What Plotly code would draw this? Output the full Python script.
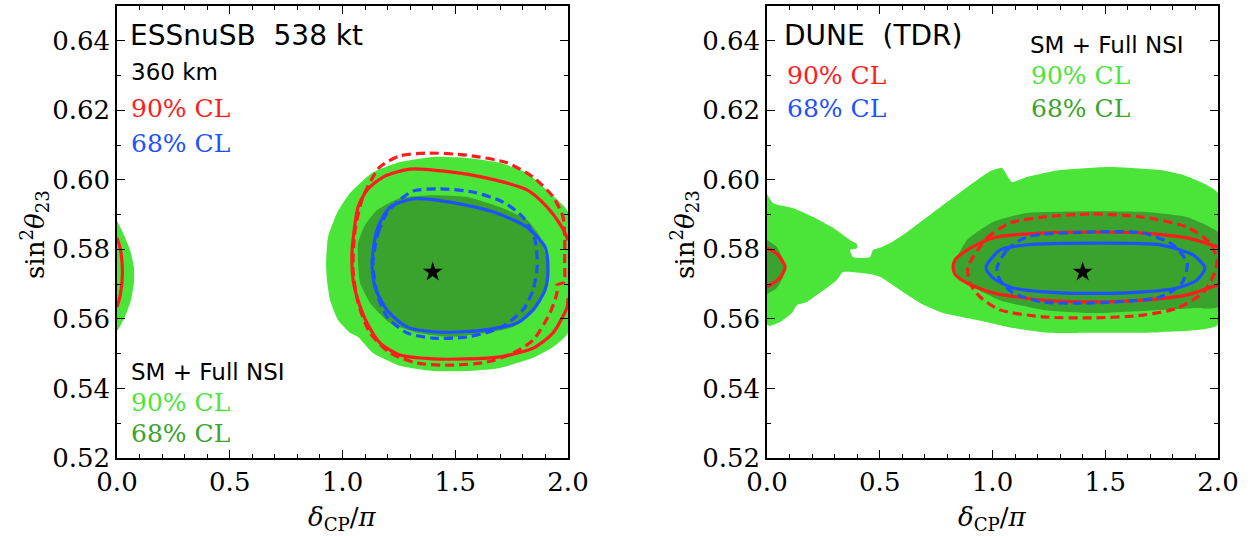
import plotly.graph_objects as go

# ---------------- data (delta_CP/pi , sin^2 theta23) ----------------
# ESSnuSB panel
ess_nsi90_x = [0.927,0.936,0.976,1.033,1.131,1.255,1.401,1.552,1.698,1.818,1.920,2.0,
               2.0,1.934,1.845,1.698,1.552,1.401,1.255,1.135,1.069,1.033,0.980,0.945,0.931,0.927]
ess_nsi90_y = [0.5761,0.5836,0.5905,0.5962,0.6020,0.6051,0.6066,0.6063,0.6049,0.6020,0.5962,0.5908,
               0.5560,0.5519,0.5488,0.5459,0.5450,0.5450,0.5465,0.5502,0.5548,0.5560,0.5597,0.5654,0.5712,0.5761]
ess_nsi90_edge_x = [0.0,0.027,0.058,0.075,0.075,0.062,0.035,0.004,0.0]
ess_nsi90_edge_y = [0.5882,0.5847,0.5798,0.5749,0.5703,0.5654,0.5606,0.5568,0.5568]
ess_nsi68_x = [1.069,1.069,1.100,1.153,1.255,1.401,1.552,1.698,1.818,1.876,1.907,1.898,1.845,1.756,
               1.641,1.477,1.330,1.211,1.122,1.078,1.069]
ess_nsi68_y = [0.5761,0.5818,0.5870,0.5913,0.5948,0.5956,0.5951,0.5922,0.5885,0.5836,0.5761,0.5692,0.5626,0.5577,
               0.5560,0.5548,0.5560,0.5588,0.5646,0.5703,0.5761]
ess_sm90_x = [2.0,1.973,1.907,1.818,1.641,1.477,1.299,1.180,1.109,1.069,1.052,1.042,1.047,1.069,1.109,
              1.166,1.255,1.401,1.552,1.698,1.845,1.934,1.996,2.0]
ess_sm90_y = [0.5827,0.5864,0.5922,0.5971,0.6005,0.6023,0.6031,0.6008,0.5971,0.5922,0.5856,0.5790,0.5712,0.5654,0.5588,
              0.5531,0.5496,0.5485,0.5485,0.5491,0.5516,0.5560,0.5634,0.5660]
ess_sm90_edge_x = [0.0,0.015,0.024,0.015,0.0]
ess_sm90_edge_y = [0.5833,0.5800,0.5733,0.5670,0.5634]
ess_alt90_x = [1.985,1.985,1.978,1.934,1.845,1.729,1.552,1.375,1.255,1.166,1.091,1.056,1.047,1.069,1.122,
               1.211,1.330,1.477,1.641,1.756,1.845,1.920,1.951,1.951,1.982,1.985]
ess_alt90_y = [0.5760,0.5840,0.5893,0.5951,0.6008,0.6049,0.6071,0.6077,0.6069,0.6037,0.5951,0.5856,0.5741,0.5646,0.5560,
               0.5502,0.5473,0.5467,0.5476,0.5502,0.5539,0.5617,0.5675,0.5698,0.5705,0.5760]
ess_sm68_x = [1.131,1.153,1.211,1.313,1.477,1.667,1.818,1.898,1.911,1.898,1.845,1.774,1.623,1.432,1.286,1.197,1.144,1.131]
ess_sm68_y = [0.5761,0.5856,0.5922,0.5945,0.5936,0.5908,0.5864,0.5807,0.5741,0.5683,0.5626,0.5588,0.5568,0.5562,0.5577,0.5626,0.5692,0.5761]
ess_alt68_x = [1.135,1.158,1.197,1.242,1.313,1.432,1.579,1.712,1.800,1.854,1.863,1.845,1.800,1.698,1.552,1.401,1.286,1.197,1.153,1.135]
ess_alt68_y = [0.5761,0.5847,0.5905,0.5936,0.5968,0.5974,0.5965,0.5936,0.5893,0.5827,0.5749,0.5683,0.5626,0.5574,0.5548,0.5545,0.5560,0.5606,0.5675,0.5761]

# DUNE panel
dune_nsi90_x = [0.0,0.027,0.115,0.204,0.293,0.368,0.399,0.399,0.368,0.381,0.412,0.457,0.470,0.510,0.554,0.621,0.710,
                0.798,0.887,0.990,1.042,1.086,1.153,1.299,1.521,1.743,1.845,1.933,2.0,2.0,1.743,1.446,1.255,1.091,
                0.931,0.781,0.678,0.590,0.501,0.457,0.337,0.310,0.235,0.177,0.133,0.111,0.058,0.013,0.0]
dune_nsi90_y = [0.5959,0.5933,0.5919,0.5893,0.5862,0.5827,0.5815,0.5803,0.5798,0.5778,0.5775,0.5778,0.5798,0.5807,0.5821,0.5850,0.5893,
                0.5936,0.5979,0.6025,0.6034,0.5994,0.6008,0.6028,0.6037,0.6028,0.6014,0.5991,0.5962,0.5583,0.5562,0.5560,0.5560,0.5574,
                0.5597,0.5617,0.5646,0.5683,0.5721,0.5729,0.5735,0.5712,0.5675,0.5649,0.5640,0.5617,0.5591,0.5580,0.5583]
dune_nsi68_x = [0.825,0.887,1.002,1.153,1.446,1.667,1.863,1.965,2.0,2.0,1.889,1.743,1.446,1.224,1.033,0.914,0.843,0.825]
dune_nsi68_y = [0.5749,0.5827,0.5879,0.5905,0.5910,0.5908,0.5893,0.5864,0.5850,0.5634,0.5631,0.5626,0.5617,0.5626,0.5654,0.5692,0.5721,0.5749]
dune_nsi68_edge_x = [0.0,0.044,0.071,0.071,0.044,0.0]
dune_nsi68_edge_y = [0.5827,0.5807,0.5769,0.5721,0.5689,0.5672]
dune_sm90_x = [2.0,1.863,1.667,1.446,1.224,1.002,0.887,0.834,0.825,0.834,0.887,1.002,1.224,1.446,1.667,1.863,2.0]
dune_sm90_y = [0.5807,0.5833,0.5847,0.5850,0.5847,0.5833,0.5798,0.5770,0.5749,0.5728,0.5703,0.5675,0.5654,0.5649,0.5654,0.5669,0.5698]
dune_sm90_edge_x = [0.0,0.049,0.080,0.058,0.0]
dune_sm90_edge_y = [0.5804,0.5784,0.5749,0.5718,0.5692]
dune_alt90_x = [0.891,0.976,1.078,1.224,1.446,1.667,1.863,1.965,1.996,1.978,1.933,1.818,1.667,1.446,1.224,1.033,0.945,0.900,0.891]
dune_alt90_y = [0.5749,0.5833,0.5876,0.5893,0.5902,0.5893,0.5864,0.5818,0.5769,0.5721,0.5675,0.5631,0.5611,0.5603,0.5606,0.5626,0.5663,0.5703,0.5749]
dune_sm68_x = [0.971,1.033,1.153,1.446,1.743,1.889,1.942,1.907,1.818,1.596,1.299,1.091,1.002,0.971]
dune_sm68_y = [0.5747,0.5798,0.5813,0.5818,0.5813,0.5784,0.5747,0.5712,0.5689,0.5675,0.5675,0.5689,0.5718,0.5747]
dune_alt68_x = [1.020,1.064,1.153,1.446,1.667,1.800,1.863,1.840,1.743,1.446,1.224,1.091,1.033,1.020]
dune_alt68_y = [0.5747,0.5798,0.5836,0.5850,0.5847,0.5813,0.5761,0.5703,0.5663,0.5646,0.5649,0.5675,0.5712,0.5747]

true_x = [1.4]
true_y = [0.5735]

x_ticks = [0.0, 0.5, 1.0, 1.5, 2.0]
y_ticks = [0.52, 0.54, 0.56, 0.58, 0.60, 0.62, 0.64]

# ---------------- styles ----------------
LG = "rgb(75,229,58)"
DG = "rgb(58,163,45)"
RED = "rgb(255,28,28)"
BLUE = "rgb(28,82,255)"
SERIF = "DejaVu Serif"
SANS = "DejaVu Sans"
DASH = "9px,5px"

fig = go.Figure()

def fill(x, y, color, xa, ya):
    fig.add_trace(go.Scatter(x=x, y=y, mode="lines", fill="toself", fillcolor=color,
                             line=dict(color=color, width=0, shape="spline", smoothing=0.5),
                             xaxis=xa, yaxis=ya, hoverinfo="skip", showlegend=False))

def line(x, y, color, dash, xa, ya):
    fig.add_trace(go.Scatter(x=x, y=y, mode="lines",
                             line=dict(color=color, width=3.2, dash=dash, shape="spline", smoothing=0.7),
                             xaxis=xa, yaxis=ya, hoverinfo="skip", showlegend=False))

# left panel
fill(ess_nsi90_x, ess_nsi90_y, LG, "x", "y")
fill(ess_nsi90_edge_x, ess_nsi90_edge_y, LG, "x", "y")
fill(ess_nsi68_x, ess_nsi68_y, DG, "x", "y")
line(ess_alt90_x, ess_alt90_y, RED, DASH, "x", "y")
line(ess_sm90_x, ess_sm90_y, RED, "solid", "x", "y")
line(ess_sm90_edge_x, ess_sm90_edge_y, RED, "solid", "x", "y")
line(ess_alt68_x, ess_alt68_y, BLUE, DASH, "x", "y")
line(ess_sm68_x, ess_sm68_y, BLUE, "solid", "x", "y")

# right panel
fill(dune_nsi90_x, dune_nsi90_y, LG, "x2", "y2")
fill(dune_nsi68_x, dune_nsi68_y, DG, "x2", "y2")
fill(dune_nsi68_edge_x, dune_nsi68_edge_y, DG, "x2", "y2")
line(dune_alt90_x, dune_alt90_y, RED, DASH, "x2", "y2")
line(dune_sm90_x, dune_sm90_y, RED, "solid", "x2", "y2")
line(dune_sm90_edge_x, dune_sm90_edge_y, RED, "solid", "x2", "y2")
line(dune_alt68_x, dune_alt68_y, BLUE, DASH, "x2", "y2")
line(dune_sm68_x, dune_sm68_y, BLUE, "solid", "x2", "y2")

for xa, ya in (("x", "y"), ("x2", "y2")):
    fig.add_trace(go.Scatter(x=true_x, y=true_y, mode="markers",
                             marker=dict(symbol="star", size=15, color="black", line=dict(width=0)),
                             xaxis=xa, yaxis=ya, hoverinfo="skip", showlegend=False))

W, H = 1252, 536
xdom1 = [117 / W, 568 / W]
xdom2 = [767 / W, 1218 / W]
ydom = [1 - 458 / H, 1 - 6 / H]

def xax(dom, anchor):
    return dict(domain=dom, anchor=anchor, range=[0, 2], tickvals=x_ticks, ticktext=[f"{v:.1f}" for v in x_ticks],
                showline=True, linecolor="black", linewidth=1.5, mirror="allticks", automargin=False,
                ticks="inside", ticklen=8, tickwidth=1, tickcolor="black",
                minor=dict(ticks="inside", ticklen=4, dtick=0.1, tickcolor="black", showgrid=False),
                showgrid=False, zeroline=False,
                tickfont=dict(family=SERIF, size=26, color="black"))

def yax(anchor):
    return dict(domain=ydom, anchor=anchor, range=[0.52, 0.65], tickvals=y_ticks, ticktext=[f"{v:.2f}" for v in y_ticks],
                showline=True, linecolor="black", linewidth=1.5, mirror="allticks", automargin=False,
                ticks="inside", ticklen=8, tickwidth=1, tickcolor="black",
                minor=dict(ticks="inside", ticklen=4, dtick=0.01, tickcolor="black", showgrid=False),
                showgrid=False, zeroline=False,
                tickfont=dict(family=SERIF, size=26, color="black"))

fig.update_layout(
    width=W, height=H, margin=dict(l=0, r=0, t=0, b=0, autoexpand=False),
    paper_bgcolor="white", plot_bgcolor="white",
    xaxis=xax(xdom1, "y"), yaxis=yax("x"),
    xaxis2=xax(xdom2, "y2"), yaxis2=yax("x2"),
)

ann = []
def txt(x, y, s, color="black", size=24, family=SANS, xanchor="left", angle=0):
    ann.append(dict(x=x / W, y=1 - y / H, xref="paper", yref="paper", text=s, showarrow=False,
                    xanchor=xanchor, yanchor="middle", textangle=angle,
                    font=dict(family=family, size=size, color=color)))

# left panel labels
txt(128, 36, "ESSnuSB  538 kt", size=28)
txt(129, 72, "360 km", size=23)
txt(129, 108, "90% CL", RED, 25, SERIF)
txt(129, 143, "68% CL", BLUE, 25, SERIF)
txt(129, 372, "SM + Full NSI", size=23)
txt(129, 402, "90% CL", LG, 25, SERIF)
txt(129, 433, "68% CL", DG, 25, SERIF)
# right panel labels
txt(782, 36, "DUNE  (TDR)", size=28)
txt(785, 76, "90% CL", RED, 25, SERIF)
txt(785, 108, "68% CL", BLUE, 25, SERIF)
txt(1028, 45, "SM + Full NSI", size=23)
txt(1029, 76, "90% CL", LG, 25, SERIF)
txt(1029, 108, "68% CL", DG, 25, SERIF)

# axis titles
ytitle = "sin<sup>2</sup><i>θ</i><sub>23</sub>"
xtitle = "<i>δ</i><sub>CP</sub>/<i>π</i>"
txt(34, 235, ytitle, size=26, family=SERIF, xanchor="center", angle=-90)
txt(684, 235, ytitle, size=26, family=SERIF, xanchor="center", angle=-90)
txt(342, 518, xtitle, size=26, family=SERIF, xanchor="center")
txt(992, 518, xtitle, size=26, family=SERIF, xanchor="center")

fig.update_layout(annotations=ann)
fig.write_html("out.html", config={"displayModeBar": False},
               post_script="document.body.style.margin='0';document.body.style.overflow='hidden';")
